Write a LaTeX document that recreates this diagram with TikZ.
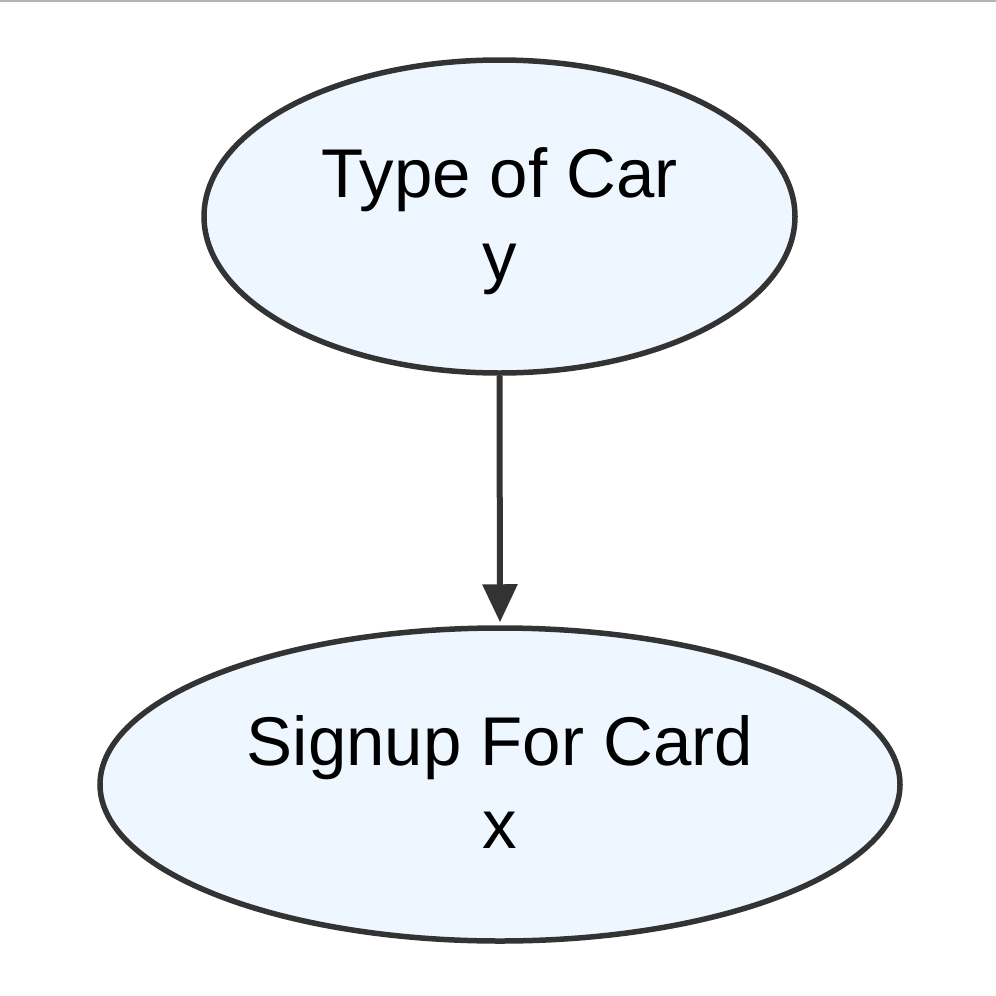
\documentclass[tikz,border=0pt]{standalone}
\usepackage{fontspec}
\setmainfont{Liberation Sans}
\usetikzlibrary{shapes.geometric,arrows.meta}
\definecolor{edgegray}{HTML}{333333}
\definecolor{nodefill}{HTML}{EEF6FF}
\definecolor{framegray}{HTML}{B4B4B4}
\tikzset{
  ell/.style={ellipse, draw=edgegray, fill=nodefill, line width=5.5pt, inner sep=0pt},
  lbl/.style={inner sep=0pt, anchor=base, text=black, font=\fontsize{69}{83}\selectfont},
  conn/.style={draw=edgegray, line width=6pt, -{Triangle[length=38pt,width=34pt]}}
}
\begin{document}
\begin{tikzpicture}[x=1pt,y=-1pt]
\useasboundingbox[fill=white] (0,0) rectangle (996,996);
\coordinate (tl) at (0,1);
\coordinate (tr) at (996,1);
\draw[framegray, line width=2pt] (tl) -- (tr);
\node[ell, minimum width=591pt, minimum height=313pt] (car) at (499.5,216.5) {};
\node[ell, minimum width=800pt, minimum height=313pt] (card) at (500,784.5) {};
\node[lbl] (carA) at (499.5,197) {Type of Car};
\node[lbl] (carB) at (499.5,280) {y};
\node[lbl] (cardA) at (500,765) {Signup For Card};
\node[lbl] (cardB) at (500,848) {x};
\draw[conn, shorten >=3pt] (car.south) -- (card.north);
\end{tikzpicture}
\end{document}
